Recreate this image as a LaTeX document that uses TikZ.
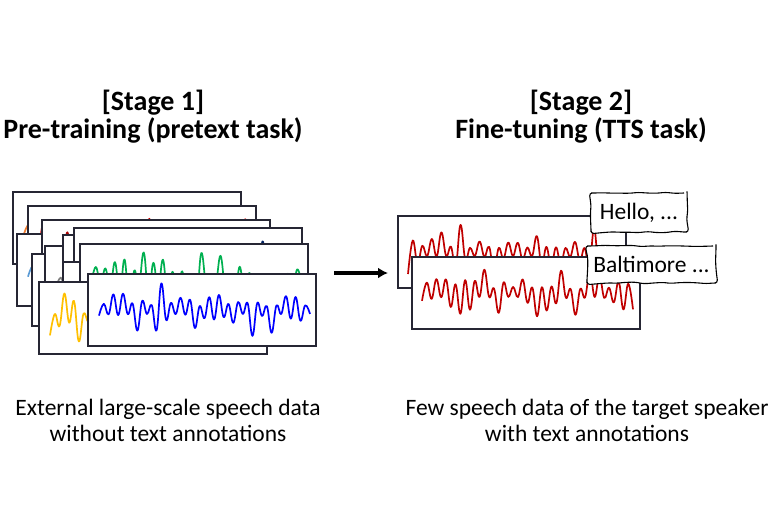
\documentclass[tikz,border=0pt]{standalone}
\usepackage{fontspec}
\setmainfont{Carlito}
\usetikzlibrary{arrows.meta,decorations.pathmorphing}
\definecolor{frame}{RGB}{38,38,52}
\definecolor{wOrange}{RGB}{237,125,49}
\definecolor{wRed}{RGB}{210,0,0}
\definecolor{wDarkRed}{RGB}{170,0,0}
\definecolor{wLightBlue}{RGB}{91,155,213}
\definecolor{wMidBlue}{RGB}{68,114,196}
\definecolor{wNavy}{RGB}{0,32,96}
\definecolor{wGray}{RGB}{128,128,128}
\definecolor{wLightGray}{RGB}{150,150,150}
\definecolor{wGreen}{RGB}{0,176,80}
\definecolor{wYellow}{RGB}{255,192,0}
\definecolor{wBlue}{RGB}{0,0,255}
\definecolor{wTTS}{RGB}{192,0,0}
\newcommand\spwave[7]{%
  \pgfmathsetseed{#7}%
  \pgfmathtruncatemacro\spN{#4+1}%
  \draw[draw=#6, line width=1.7pt, line join=round]
    plot[smooth, tension=0.7, domain=0:#4, samples=\spN]
    ({#1+(#2-#1)*\x/#4},{#3+cos(180*\x)*(#5)*(0.14+0.86*abs(rand)^2.5)});
}
\begin{document}
\begin{tikzpicture}[x=1pt,y=-1pt,
  wbox/.style={draw=frame, fill=white, line width=1.3pt, minimum width=228pt,
    minimum height=72pt, inner sep=0pt, outer sep=0pt, anchor=north west},
  handbox/.style={draw=black, fill=white, line width=1.1pt, inner sep=0pt,
    decorate, decoration={random steps, segment length=9pt, amplitude=0.9pt},
    rounded corners=3pt, font=\fontsize{23.5}{28}\selectfont},
  titletext/.style={anchor=base, inner sep=0pt, font=\fontsize{28}{34}\selectfont\bfseries},
  bodytext/.style={anchor=base, inner sep=0pt, font=\fontsize{23.5}{28}\selectfont},
  arrowline/.style={line width=3.2pt, -{Latex[length=10pt,width=11pt]}}]
\useasboundingbox (0,0) rectangle (775,525);

% ---- titles ----
\node[titletext] (s1a) at (153,110) {[Stage 1]};
\node[titletext] (s1b) at (153,138) {Pre-training (pretext task)};
\node[titletext] (s2a) at (581,110) {[Stage 2]};
\node[titletext] (s2b) at (581,138) {Fine-tuning (TTS task)};

% ---- stage 1 stack ----
\node[wbox] (A) at (13,192) {};
\spwave{24}{235}{230}{44}{28}{wOrange}{11}
\node[wbox] (B) at (28,206) {};
\spwave{39}{250}{244}{44}{28}{wRed}{12}
\node[wbox] (D) at (17,234) {};
\spwave{28}{239}{270}{44}{28}{wLightBlue}{13}
\node[wbox] (C) at (42,220) {};
\spwave{53}{264}{258}{44}{28}{wDarkRed}{14}
\node[wbox] (G) at (32,254) {};
\spwave{43}{254}{290}{44}{28}{wMidBlue}{15}
\node[wbox] (H) at (45,246) {};
\spwave{56}{267}{282}{44}{28}{wGray}{16}
\node[wbox] (E) at (63,235) {};
\spwave{74}{285}{271}{44}{28}{wLightGray}{17}
\node[wbox] (F) at (74,228) {};
\spwave{85}{296}{266}{44}{28}{wNavy}{18}
\node[wbox] (J) at (63,262) {};
\spwave{74}{285}{298}{44}{28}{wLightGray}{19}
\node[wbox] (I) at (80,244) {};
\spwave{91}{302}{280}{44}{28}{wGreen}{20}
\node[wbox] (K) at (39,282) {};
\spwave{50}{261}{318}{44}{28}{wYellow}{21}
\node[wbox] (L) at (88,274) {};
\spwave{99}{310}{310}{44}{28}{wBlue}{22}

% ---- arrow ----
\coordinate (arrS) at (334,273);
\coordinate (arrE) at (388,273);
\draw[arrowline] (arrS) -- (arrE);

% ---- stage 2 ----
\node[wbox] (R1) at (398,216) {};
\spwave{408}{618}{252}{44}{28}{wTTS}{31}
\node[wbox] (R2) at (412,257) {};
\spwave{422}{633}{293}{44}{28}{wTTS}{32}
\node[handbox, minimum width=96pt, minimum height=39pt] (hello) at (639,212.5) {Hello, ...};
\node[handbox, minimum width=129pt, minimum height=37pt] (balt) at (651.5,264.5) {Baltimore ...};

% ---- descriptions ----
\node[bodytext] (d1a) at (168,415) {External large-scale speech data};
\node[bodytext] (d1b) at (168,441) {without text annotations};
\node[bodytext] (d2a) at (587,415) {Few speech data of the target speaker};
\node[bodytext] (d2b) at (587,441) {with text annotations};
\end{tikzpicture}
\end{document}
